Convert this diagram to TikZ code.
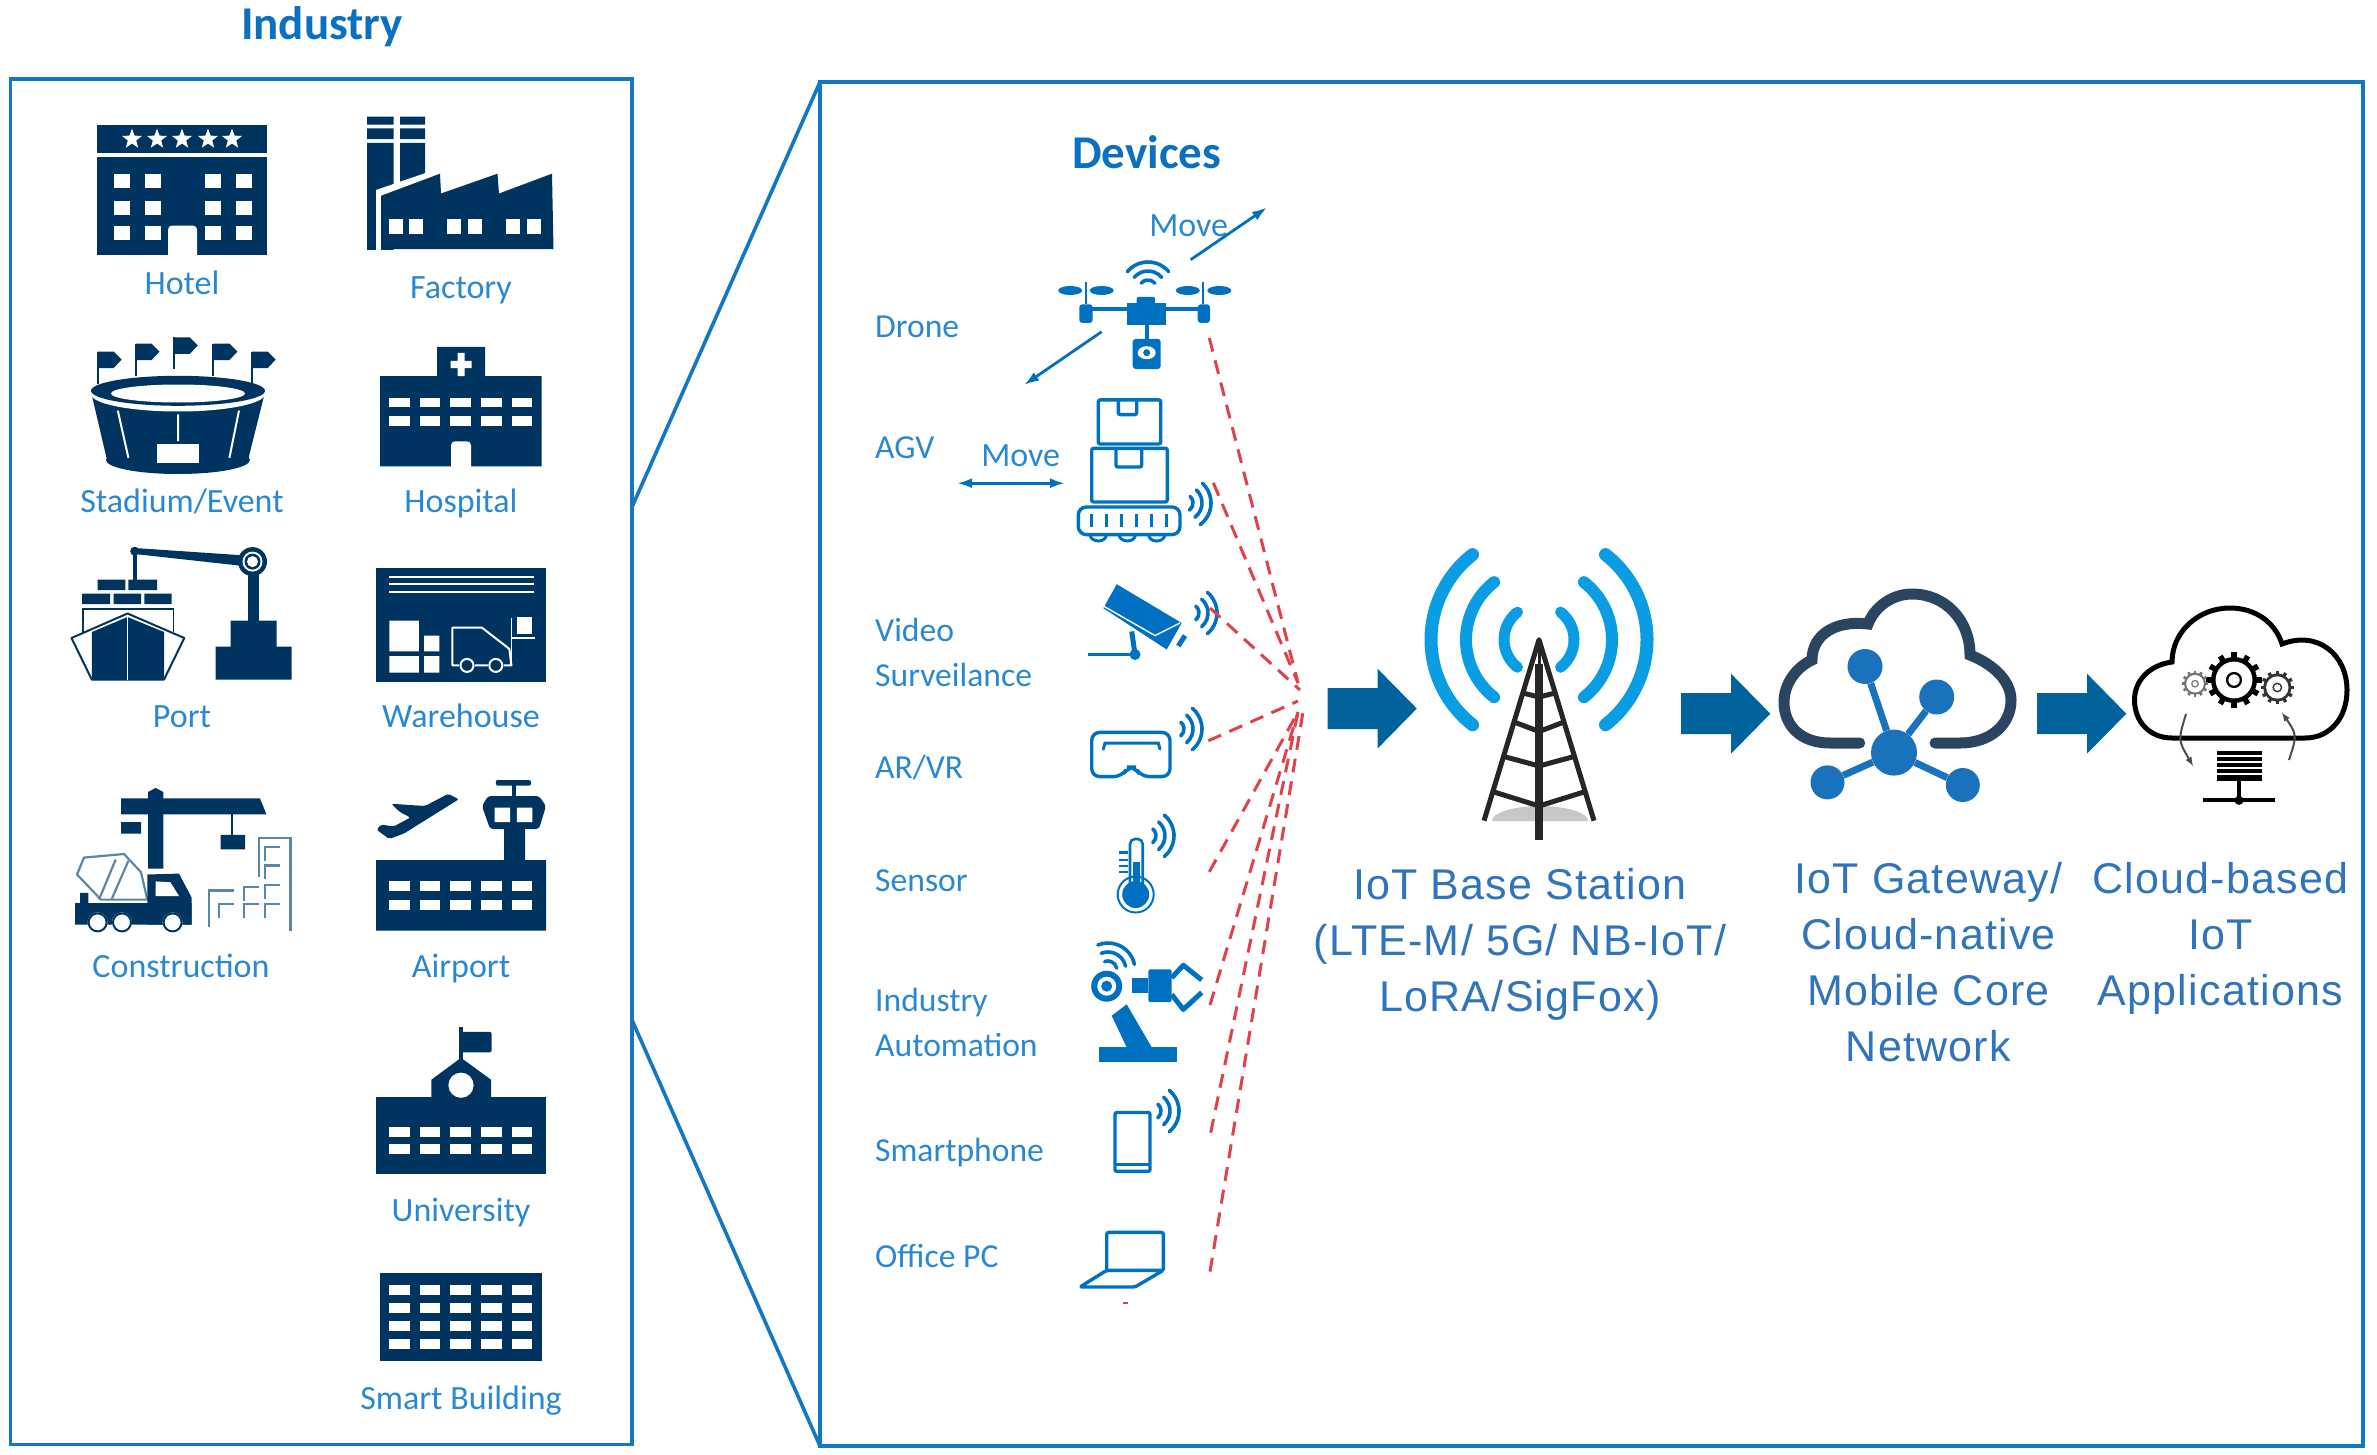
\documentclass[tikz,border=0pt]{standalone}
\usepackage{fontspec}
\setmainfont{Carlito}
\newfontfamily\arialfont[LetterSpace=2.8]{Liberation Sans}
\usetikzlibrary{arrows.meta,shapes.geometric}
\definecolor{navyc}{HTML}{003460}
\definecolor{framec}{HTML}{1278C4}
\definecolor{lblc}{HTML}{2A88D2}
\definecolor{titlec}{HTML}{0C70C0}
\definecolor{devc}{HTML}{0070C0}
\definecolor{bigc}{HTML}{2F74BC}
\definecolor{redc}{HTML}{E2414B}
\definecolor{arrowc}{HTML}{00639C}
\definecolor{sigc}{HTML}{0B9DE3}
\definecolor{cloudc}{HTML}{2B4560}
\definecolor{netc}{HTML}{1B72BC}
\definecolor{bldc}{HTML}{5B86A6}
\tikzset{
  frameline/.style={draw=framec,line width=3.6pt},
  lbl/.style={text=lblc,font=\fontsize{34}{40}\selectfont,anchor=base,inner sep=0pt},
  devlbl/.style={text=lblc,font=\fontsize{33.6}{40}\selectfont,anchor=base west,inner sep=0pt},
  titlelbl/.style={text=titlec,font=\fontsize{47}{50}\selectfont\bfseries,anchor=base,inner sep=0pt},
  biglbl/.style={text=bigc,font=\arialfont\fontsize{43}{56}\selectfont,align=center,anchor=base,inner sep=0pt},
  moveline/.style={draw=devc,line width=2.8pt,-{Latex[length=15pt,width=10pt]}},
  radiolink/.style={draw=redc,line width=3pt,dash pattern=on 14pt off 9pt},
  devstroke/.style={draw=devc,line width=3.4pt,rounded corners=2pt},
  radio/.pic={
    \foreach \r in {9,18,27}
      \draw[draw=devc,line width=3.6pt,line cap=round] (-50:\r pt) arc[start angle=-50,end angle=50,radius=\r pt];
  },
  towerwave/.pic={
    \draw[draw=sigc,line width=13pt,line cap=round] (#1:108pt) arc[start angle=#1,delta angle=104,radius=108pt];
    \draw[draw=sigc,line width=12pt,line cap=round] (#1:73pt) arc[start angle=#1,delta angle=104,radius=73pt];
    \draw[draw=sigc,line width=11pt,line cap=round] (#1:35pt) arc[start angle=#1,delta angle=104,radius=35pt];
  },
  bigarrow/.pic={
    \fill[arrowc] (0,-20.5) -- (50,-20.5) -- (50,-40) -- (89.3,0) -- (50,40) -- (50,20.5) -- (0,20.5) -- cycle;
  },
  gear/.pic={
    \foreach \a in {0,30,...,330}
      \draw[line width=0.24*#1 pt] (\a:0.8*#1 pt) -- (\a:1.2*#1 pt);
    \fill (0,0) circle[radius=#1 pt];
    \fill[white] (0,0) circle[radius=0.8*#1 pt];
    \draw[line width=0.1*#1 pt] (0,0) circle[radius=0.3*#1 pt];
  },
  bracket/.pic={
    \draw[draw=bldc,line width=2.2pt] (0,14) -- (0,0) -- (15,0);
  },
}
\newcommand{\winrow}[2]{%
  \foreach \wx in {389,419.7,450.4,481.1,511.8}
    \fill[white] (\wx,#1) rectangle (\wx+20.5,#2);
}
\begin{document}
\begin{tikzpicture}[x=1pt,y=-1pt,>=latex]
  \useasboundingbox (0,0) rectangle (2377,1455);

  % frames
  \path[frameline] (10.5,79) rectangle (632,1444.5);
  \path[frameline] (820,82) rectangle (2363,1446);
  \coordinate (indtop) at (632,507);
  \coordinate (indbot) at (632,1020);
  \coordinate (devtop) at (820,82);
  \coordinate (devbot) at (820,1446);
  \draw[frameline] (indtop) -- (devtop);
  \draw[frameline] (indbot) -- (devbot);

  \node[titlelbl] (industry) at (322,40) {Industry};
  \node[titlelbl] (devices) at (1146.7,168.4) {Devices};

  % hotel
  \fill[navyc] (97,125) rectangle (267,153.4);
  \fill[navyc] (97,157) rectangle (267,254.8);
  \foreach \i/\sx in {1/132,2/157,3/182,4/208,5/232}
    \node[star,star points=5,star point ratio=2.4,fill=white,minimum size=21pt,inner sep=0pt] (star\i) at (\sx,139.2) {};
  \foreach \wx in {113.6,145,205,236}
    \foreach \wy in {173.7,200.6,226.5}
      \fill[white] (\wx,\wy) rectangle (\wx+16,\wy+14);
  \fill[white,rounded corners=4pt] (168,262) rectangle (197,225.6);

  % factory
  \fill[navyc] (367,116.6) rectangle (393.5,124.6) (400,116.6) rectangle (425,124.6);
  \fill[navyc] (367,128.4) rectangle (393.5,139.2) (400,128.4) rectangle (425,139.2);
  \fill[navyc] (367,143) rectangle (393.5,250) (400,143) rectangle (425,190);
  \fill[white] (376,250) -- (376,190) -- (440,168) -- (440,178) -- (381,198) -- (381,250) -- cycle;
  \fill[navyc] (381,195.8) -- (440,173.7) -- (441,193.5) -- (497.5,173.7) -- (499,193.5) -- (552,173.7) -- (553.5,249.2) -- (381,249.2) -- cycle;
  \foreach \wx in {389,409,447,468,506,527}
    \fill[white] (\wx,219.4) rectangle (\wx+14,234.5);

  % stadium
  \foreach \fx/\fy in {97.6/351.6,135.5/343.6,173.8/337.4,213.4/343.6,251.7/351.6} {
    \fill[navyc] (\fx-1,\fy) rectangle (\fx+1,\fy+32);
    \fill[navyc] (\fx,\fy) -- (\fx+16,\fy) -- (\fx+24,\fy+8) -- (\fx+16,\fy+16.5) -- (\fx,\fy+16.5) -- cycle;
  }
  \fill[navyc] (92,396) -- (107,460) -- (248,460) -- (264,396) -- cycle;
  \fill[navyc] (178,460) ellipse[x radius=72pt,y radius=14pt];
  \fill[white] (178,394) ellipse[x radius=87pt,y radius=17.5pt];
  \fill[navyc] (178,390.8) ellipse[x radius=87pt,y radius=15pt];
  \fill[white] (178,393.5) ellipse[x radius=67pt,y radius=9pt];
  \draw[white,line width=2pt] (117.8,410.6) -- (128.4,457.8) (178,414.3) -- (178,441.2) (239,410.6) -- (229.4,457.8);
  \fill[white] (156.5,443.6) rectangle (199,463.4);

  % hospital
  \fill[navyc] (380,376) rectangle (541.7,466.3) (437,346.9) rectangle (485,376);
  \fill[white] (450.5,360.8) rectangle (471.5,368) (457.5,352.8) rectangle (464.5,376);
  \winrow{397.8}{406.8}
  \winrow{416.2}{425.7}
  \fill[white,rounded corners=4pt] (451,475) rectangle (471,441.3);

  % port
  \fill[navyc] (134.7,548) -- (252.5,556) -- (252.5,567) -- (134.7,554) -- cycle;
  \fill[navyc] (134.7,551.2) circle[radius=4.5pt];
  \fill[navyc] (132.7,551) rectangle (136.7,580);
  \fill[navyc] (248,561) rectangle (259,623);
  \fill[navyc] (252.5,561.6) circle[radius=14.5pt];
  \fill[white] (252.5,561.6) circle[radius=10pt];
  \fill[navyc] (252.5,561.6) circle[radius=8pt];
  \fill[white] (252.5,561.6) circle[radius=5.5pt];
  \fill[navyc] (230.6,620.6) rectangle (276.5,646.5) (215.5,646.5) rectangle (291.7,679.6);
  \fill[navyc] (97.6,579.5) rectangle (125.4,590) (128.4,579.5) rectangle (157,590);
  \fill[navyc] (82,593.7) rectangle (110,604) (113.6,593.7) rectangle (141,604) (144.4,593.7) rectangle (171.7,604);
  \draw[navyc,line width=1.4pt] (83,632) -- (83,608.8) -- (173.4,608.8) -- (173.4,632);
  \draw[navyc,line width=2pt,line join=round] (71.5,638) -- (127.5,613.5) -- (184.3,638) -- (164,679.6) -- (91.8,679.6) -- cycle;
  \fill[navyc] (91.8,632) -- (127.5,617) -- (164,632) -- (164,679.6) -- (91.8,679.6) -- cycle;
  \draw[white,line width=1.6pt] (127.5,615) -- (127.5,680);

  % warehouse
  \fill[navyc] (376,567.7) rectangle (546,682);
  \foreach \wy in {576.7,584.2,591.8}
    \draw[white,line width=1.6pt] (389,\wy) -- (533.7,\wy);
  \fill[white] (389.3,620.6) rectangle (418.8,651.3) (389.3,656) rectangle (418.8,672.5);
  \fill[white] (424,635.7) rectangle (439.4,651.3) (424,656) rectangle (439.4,672.5);
  \draw[white,line width=2pt,line join=round] (452.4,665.4) -- (452.4,627.7) -- (482,627.7) -- (509.3,648.9) -- (511.4,665.4) -- cycle;
  \foreach \wx in {467,495.8} {
    \fill[navyc] (\wx,665.4) circle[radius=8pt];
    \draw[white,line width=2pt] (\wx,665.4) circle[radius=6.5pt];
  }
  \draw[white,line width=1.8pt] (511.4,618) -- (511.4,660.7) (511.4,638) -- (534.5,638);
  \fill[white] (516.8,617.3) rectangle (532.4,633.8);

  % construction
  \fill[navyc] (121,798.4) -- (260,798.4) -- (266.4,814.3) -- (121,814.3) -- cycle;
  \fill[navyc] (148,792) -- (155.6,787.9) -- (163.3,792) -- (163.3,868.6) -- (148,868.6) -- cycle;
  \fill[navyc] (121,822) rectangle (141,833.5) (220.5,834.8) rectangle (245,849.4);
  \fill[navyc] (230.5,814) rectangle (232.5,835);
  \draw[bldc,line width=2.2pt,line join=round] (77,874.5) -- (84,857.6) -- (124,854) -- (141,872.2) -- (147.3,899.6) -- (101,899.6) -- cycle;
  \draw[bldc,line width=2.2pt] (115.7,859.5) -- (99,899.6) (128.4,860.8) -- (111.5,899.6);
  \fill[navyc] (75,903.2) rectangle (191.5,924.7) (80,892.8) rectangle (88.4,904.2);
  \fill[navyc] (147.3,874.5) -- (179,873.6) -- (191.5,897.3) -- (191.5,924.7) -- (147.3,924.7) -- cycle;
  \fill[white] (155.7,881.4) -- (170.5,882.3) -- (179,896) -- (155.7,896) -- cycle;
  \foreach \wx in {97.6,122,172.6} {
    \fill[white] (\wx,922.4) circle[radius=10pt];
    \fill[navyc,even odd rule] (\wx,922.4) circle[radius=10pt] circle[radius=8pt];
  }
  \draw[bldc,line width=2.2pt] (258.8,876.8) -- (258.8,838) -- (290.4,838) -- (290.4,930.6);
  \draw[bldc,line width=2.2pt] (209,927) -- (209,890.5) -- (234,890.5);
  \foreach \bx/\by in {265/847,265/865.4,265/885,265/904,244/886.8,244/904,219/904}
    \pic at (\bx,\by) {bracket};

  % airport
  \fill[navyc] (376,860) rectangle (546,930.6) (504,825) rectangle (525,860);
  \fill[navyc,rounded corners=3pt] (482,806) -- (490,829) -- (539,829) -- (546,806) -- (539,796) -- (488,796) -- cycle;
  \fill[white] (494.5,807.5) rectangle (510,822) (516.8,807.5) rectangle (532.4,822);
  \fill[navyc] (512,782) rectangle (516,797);
  \fill[navyc,rounded corners=2pt] (495.8,780) rectangle (531,785.6);
  \fill[navyc,rounded corners=2pt] (458.8,799.3) -- (448.2,793.8) -- (425,806) -- (391.4,803.8) -- (399.8,812) -- (410.4,817.5) -- (393.5,826.6) -- (381,824.4) -- (376.7,829.8) -- (389.3,839) -- (404,833.5) -- cycle;
  \winrow{881.4}{891.4}
  \winrow{899.6}{909.6}

  % university
  \fill[navyc] (376,1097) rectangle (546,1174);
  \fill[navyc] (431.4,1097) -- (431.4,1079.7) -- (461,1057.8) -- (491,1079.7) -- (491,1097) -- cycle;
  \fill[white] (461,1085.2) circle[radius=12.6pt];
  \fill[navyc] (459,1027.3) rectangle (463,1060);
  \fill[navyc,rounded corners=2pt] (461,1031.8) rectangle (491.6,1052.4);
  \winrow{1126.7}{1136.7}
  \winrow{1143.6}{1154}

  % smart building
  \fill[navyc] (380,1272.6) rectangle (541.7,1361);
  \winrow{1285}{1295}
  \winrow{1303}{1313}
  \winrow{1321}{1331}
  \winrow{1338.7}{1348.7}

  % industry labels
  \node[lbl] (hotel) at (182,294.5) {Hotel};
  \node[lbl] (factory) at (461,298.3) {Factory};
  \node[lbl] (stadium) at (182,512.5) {Stadium/Event};
  \node[lbl] (hospital) at (461,512.5) {Hospital};
  \node[lbl] (port) at (182,727.8) {Port};
  \node[lbl] (warehouse) at (461,727.8) {Warehouse};
  \node[lbl] (construction) at (181,977) {Construction};
  \node[lbl] (airport) at (461,977) {Airport};
  \node[lbl] (university) at (461,1221.5) {University};
  \node[lbl] (smart) at (461,1409.5) {Smart Building};

  % device labels
  \node[devlbl] (drone) at (875,337.5) {Drone};
  \node[devlbl] (agv) at (875,458) {AGV};
  \node[devlbl] (video) at (875,641) {Video};
  \node[devlbl] (surveil) at (875,686) {Surveilance};
  \node[devlbl] (arvr) at (875,778.7) {AR/VR};
  \node[devlbl] (sensor) at (875,891.5) {Sensor};
  \node[devlbl] (indust) at (875,1011.6) {Industry};
  \node[devlbl] (autom) at (875,1056.7) {Automation};
  \node[devlbl] (phone) at (875,1161) {Smartphone};
  \node[devlbl] (office) at (875,1267) {Office PC};
  \node[lbl] (movea) at (1188.7,236.6) {Move};
  \node[lbl] (moveb) at (1020.7,466) {Move};

  % move arrows
  \coordinate (upa) at (1190.7,259.7);
  \coordinate (upb) at (1267,207.5);
  \coordinate (dna) at (1101.7,331.7);
  \coordinate (dnb) at (1024,385);
  \coordinate (lra) at (957,483.2);
  \coordinate (lrb) at (1065,483.2);
  \draw[moveline] (upa) -- (upb);
  \draw[moveline] (dna) -- (dnb);
  \draw[moveline,{Latex[length=15pt,width=10pt]}-{Latex[length=15pt,width=10pt]}] (lra) -- (lrb);

  % drone
  \fill[devc] (1126.7,303) rectangle (1166,325.4);
  \fill[devc,rounded corners=2pt] (1136.7,296.8) rectangle (1155,306);
  \fill[devc] (1086.7,307.4) rectangle (1203,311.4);
  \fill[devc,rounded corners=3pt] (1079.3,304.3) rectangle (1092.7,322.9) (1197.7,304.3) rectangle (1210,322.9);
  \foreach \dx in {1085.7,1203.3} {
    \fill[devc] (\dx-1,282) rectangle (\dx+1,304);
    \fill[devc] (\dx-15.5,290.5) ellipse[x radius=12pt,y radius=4.5pt];
    \fill[devc] (\dx+16,290.5) ellipse[x radius=12pt,y radius=4.5pt];
  }
  \fill[devc] (1145,325) rectangle (1148.5,340);
  \fill[devc,rounded corners=3pt] (1132.7,338.9) rectangle (1160.7,369);
  \fill[white] (1146.7,352.7) ellipse[x radius=9pt,y radius=6.5pt];
  \fill[devc] (1146.7,352.7) circle[radius=3.5pt];
  \pic[rotate=90] at (1148,289) {radio};

  % agv
  \draw[devstroke] (1098.3,399.9) rectangle (1160.7,444);
  \draw[devstroke] (1118.3,401) -- (1118.3,414.6) -- (1136.7,414.6) -- (1136.7,401);
  \draw[devstroke] (1091.7,448.3) rectangle (1167.3,502);
  \draw[devstroke] (1116,449) -- (1116,467) -- (1141.7,467) -- (1141.7,449);
  \draw[devstroke,rounded corners=8pt] (1078.3,507) rectangle (1180,534.6);
  \foreach \sx in {1091.7,1106.7,1121.7,1136.7,1151.7,1166.7}
    \draw[draw=devc,line width=3.4pt] (\sx,513.5) -- (\sx,527.4);
  \foreach \sx in {1098.3,1127.3,1156.7}
    \draw[draw=devc,line width=3pt] (\sx-8,535) arc[start angle=180,end angle=360,x radius=8pt,y radius=6pt];
  \pic[rotate=-3] at (1184,503) {radio};

  % camera
  \fill[devc] (1116.7,584.2) -- (1181.7,623) -- (1166.7,649.5) -- (1103.3,608.2) -- cycle;
  \draw[white,line width=1.4pt] (1103.3,606) -- (1155,635.6) -- (1180,623);
  \draw[draw=devc,line width=5pt] (1178.3,646) -- (1185,635.6);
  \draw[draw=devc,line width=5pt] (1131.7,631.4) -- (1135,654.5);
  \draw[draw=devc,line width=3.6pt] (1088.3,654.5) -- (1138,654.5);
  \fill[devc] (1135,654.5) circle[radius=5.5pt];
  \pic at (1190,613) {radio};

  % goggles
  \draw[devstroke,rounded corners=8pt] (1121.7,776.6) -- (1091.7,776.6) -- (1091.7,732.4) -- (1170,732.4) -- (1170,776.6) -- (1141,776.6) -- (1135,767) -- (1128,767) -- cycle;
  \draw[draw=devc,line width=3pt,line cap=round] (1103.3,749.2) -- (1105,743) -- (1158.3,743) -- (1160,749);
  \pic at (1175,729) {radio};

  % thermometer
  \draw[draw=devc,line width=2.6pt,rounded corners=5pt] (1130,885) -- (1130,839) -- (1142.7,839) -- (1142.7,885);
  \fill[devc] (1132.7,862) rectangle (1140,885);
  \draw[draw=devc,line width=2pt] (1135.7,894.5) circle[radius=18pt];
  \fill[devc] (1135.7,894.5) circle[radius=13.5pt];
  \foreach \ty in {852.4,860,866.3,871.7}
    \draw[draw=devc,line width=2.2pt] (1119,\ty) -- (1128.3,\ty);
  \pic at (1147,835.8) {radio};

  % robot arm
  \fill[devc] (1106.7,986.2) circle[radius=15.5pt];
  \fill[white] (1106.7,986.2) circle[radius=9.5pt];
  \fill[devc] (1106.7,986.2) circle[radius=5.5pt];
  \fill[devc] (1131.7,977.8) rectangle (1148.3,992.5);
  \fill[devc,rounded corners=2pt] (1148.3,969.4) rectangle (1171.7,1002);
  \draw[draw=devc,line width=5pt,line join=round] (1171.7,977.8) -- (1183.3,965.2) -- (1201.7,980);
  \draw[draw=devc,line width=5pt,line join=round] (1171.7,994.6) -- (1183.3,1009.4) -- (1201.7,992.5);
  \fill[devc] (1111.7,1015.7) -- (1126.7,1004.3) -- (1151.7,1047.3) -- (1126.7,1047.3) -- cycle;
  \fill[devc] (1099.3,1047.3) rectangle (1177.3,1062);
  \pic[rotate=62] at (1108,970) {radio};

  % smartphone
  \draw[devstroke] (1115,1112.5) rectangle (1150,1171.4);
  \draw[draw=devc,line width=3pt] (1115,1164) -- (1150,1164);
  \pic at (1152,1111) {radio};

  % laptop
  \draw[devstroke] (1106.7,1270.3) -- (1106.7,1232.4) -- (1163.3,1232.4) -- (1163.3,1270.3);
  \draw[devstroke,line join=round] (1163.3,1270.3) -- (1135,1287) -- (1080,1287) -- (1106.7,1270.3) -- cycle;

  % radio links
  \coordinate (hubt) at (1298,683);
  \coordinate (hubv) at (1300,690);
  \coordinate (huba) at (1298,701);
  \coordinate (hubl) at (1298,712);
  \coordinate (hubp) at (1303,712);
  \coordinate (linkdrone) at (1209.3,338);
  \coordinate (linkagv) at (1213.3,482.8);
  \coordinate (linkcam) at (1210,608);
  \coordinate (linkar) at (1208.3,740.8);
  \coordinate (linksens) at (1209.3,871.8);
  \coordinate (linkrobot) at (1210,1005);
  \coordinate (linkphone) at (1210.7,1132.7);
  \coordinate (linkpc) at (1210,1271.6);
  \draw[radiolink] (linkdrone) -- (hubt);
  \draw[radiolink] (linkagv) -- (hubt);
  \draw[radiolink] (linkcam) -- (hubv);
  \draw[radiolink] (linkar) -- (huba);
  \draw[radiolink] (linksens) -- (hubl);
  \draw[radiolink] (linkrobot) -- (hubl);
  \draw[radiolink] (linkphone) -- (hubl);
  \draw[radiolink] (linkpc) -- (hubp);
  \coordinate (straya) at (1123,1303);
  \coordinate (strayb) at (1128,1303);
  \draw[draw=redc,line width=1.4pt] (straya) -- (strayb);

  % block arrows
  \pic at (1327.5,708.6) {bigarrow};
  \pic at (1681,713.7) {bigarrow};
  \pic at (2037,713.7) {bigarrow};

  % tower
  \fill[black!22] (1492,821) arc[start angle=180,end angle=0,x radius=48pt,y radius=15pt] -- cycle;
  \draw[black!85,line width=5pt,line join=round] (1484,820.7) -- (1539,639.7) -- (1594,820.7);
  \draw[black!85,line width=8pt] (1539,664) -- (1539,840);
  \draw[black!85,line width=3pt] (1539,645) -- (1539,664);
  \foreach \ly/\cy/\lx/\rx in {693/697/1522.8/1555.2,722/731.5/1514/1564,756.4/766/1503.5/1574.5,791.6/806/1492.8/1585.2}
    \draw[black!85,line width=5pt] (\lx,\ly) -- (1539,\cy) -- (\rx,\ly);
  \pic at (1539,639.7) {towerwave=128};
  \pic at (1539,639.7) {towerwave=-52};

  % gateway cloud
  \draw[draw=cloudc,line width=11pt,line cap=round] (1859.7,743) -- (1830,743) .. controls (1800,743) and (1784,725) .. (1784,702) .. controls (1784,685) and (1795,668) .. (1812,660) .. controls (1812,635) and (1835,620) .. (1868,624) .. controls (1875,606) and (1893,594) .. (1912,594) .. controls (1945,594) and (1970,620) .. (1970,655) .. controls (1995,665) and (2011,682) .. (2011,700) .. controls (2011,725) and (1990,743) .. (1960,743) -- (1935,743);
  \node[circle,fill=netc,minimum size=46pt,inner sep=0pt] (hubnode) at (1894,752.6) {};
  \node[circle,fill=netc,minimum size=35pt,inner sep=0pt] (neta) at (1865,666.5) {};
  \node[circle,fill=netc,minimum size=35pt,inner sep=0pt] (netb) at (1936.7,697) {};
  \node[circle,fill=netc,minimum size=34pt,inner sep=0pt] (netc1) at (1827.5,782.4) {};
  \node[circle,fill=netc,minimum size=34pt,inner sep=0pt] (netd) at (1962.8,785) {};
  \foreach \n in {neta,netb,netc1,netd}
    \draw[draw=netc,line width=7pt] (hubnode) -- (\n);

  % application cloud
  \draw[black,line width=5pt] (2172,738) .. controls (2150,738) and (2134.5,722) .. (2134.5,700) .. controls (2134.5,680) and (2150,665) .. (2172,662) .. controls (2172,632) and (2198,608) .. (2230,608) .. controls (2255,608) and (2275,622) .. (2282,644) .. controls (2318,630) and (2347,655) .. (2347,690) .. controls (2347,718) and (2330,738) .. (2305,738) -- cycle;
  \pic[color=black] at (2234,680) {gear=23};
  \pic[color=black!55] at (2195,683.7) {gear=11};
  \pic[color=black!80] at (2277.3,687.5) {gear=14};
  \coordinate (cyclea) at (2186,714);
  \coordinate (cycleb) at (2193,766);
  \coordinate (cyclec) at (2289,760);
  \coordinate (cycled) at (2282,712.4);
  \draw[black!70,line width=2pt,->] (cyclea) .. controls (2178,740) .. (cycleb);
  \draw[black!70,line width=2pt,->] (cyclec) .. controls (2297,735) .. (cycled);
  \fill[black] (2217,750.7) rectangle (2261.5,781.3);
  \foreach \sy in {756,762,768,774}
    \draw[white,line width=1.2pt] (2217,\sy) -- (2261.5,\sy);
  \fill[black] (2237,781) rectangle (2241,800);
  \fill[black] (2203,798.4) rectangle (2275,802.4);
  \fill[black] (2239,800.4) circle[radius=4.5pt];

  % big labels
  \node[biglbl] (basestation) at (1520,1011) {IoT Base Station\\(LTE-M/ 5G/ NB-IoT/\\LoRA/SigFox)};
  \node[biglbl] (gateway) at (1928.4,1061.8) {IoT Gateway/\\Cloud-native\\Mobile Core\\Network};
  \node[biglbl] (apps) at (2220.3,1005) {Cloud-based\\IoT\\Applications};
\end{tikzpicture}
\end{document}
